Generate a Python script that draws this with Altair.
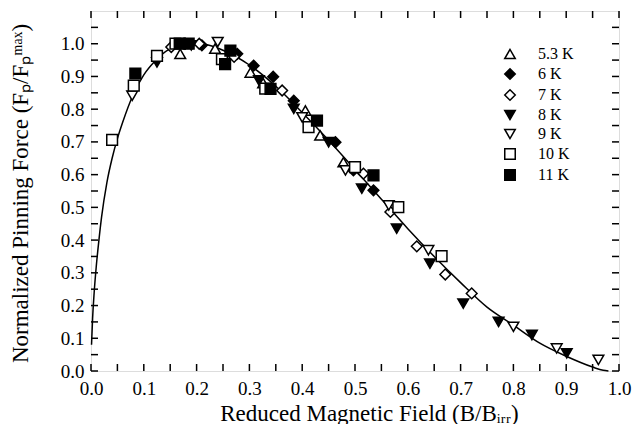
import altair as alt
import pandas as pd

# ---------------- data ----------------
series_labels = ["5.3 K", "6 K", "7 K", "8 K", "9 K", "10 K", "11 K"]
series_shapes = ["triangle-up", "diamond", "diamond", "triangle-down", "triangle-down", "square", "square"]
series_fills = ["white", "black", "white", "black", "white", "white", "black"]
series_strokes = ["black", "black", "black", "black", "black", "black", "black"]

k53_x = [0.169, 0.235, 0.302, 0.326, 0.406, 0.434, 0.478]
k53_y = [0.969, 0.985, 0.912, 0.880, 0.796, 0.720, 0.638]

k6_x = [0.178, 0.210, 0.277, 0.308, 0.345, 0.384, 0.463, 0.497, 0.535]
k6_y = [1.000, 0.995, 0.969, 0.933, 0.899, 0.826, 0.699, 0.613, 0.552]

k7_x = [0.152, 0.205, 0.271, 0.362, 0.516, 0.567, 0.617, 0.671, 0.721]
k7_y = [0.990, 1.000, 0.960, 0.857, 0.603, 0.486, 0.381, 0.295, 0.237]

k8_x = [0.125, 0.190, 0.318, 0.384, 0.450, 0.513, 0.579, 0.642, 0.705, 0.772, 0.835, 0.901]
k8_y = [0.943, 0.995, 0.888, 0.801, 0.699, 0.557, 0.435, 0.328, 0.206, 0.150, 0.110, 0.054]

k9_x = [0.078, 0.240, 0.400, 0.482, 0.564, 0.639, 0.800, 0.882, 0.961]
k9_y = [0.841, 1.005, 0.775, 0.613, 0.506, 0.369, 0.135, 0.069, 0.034]

k10_x = [0.040, 0.081, 0.125, 0.160, 0.248, 0.330, 0.412, 0.500, 0.582, 0.664]
k10_y = [0.706, 0.872, 0.963, 1.000, 0.953, 0.863, 0.745, 0.623, 0.501, 0.351]

k11_x = [0.084, 0.168, 0.185, 0.254, 0.264, 0.340, 0.428, 0.535]
k11_y = [0.909, 1.000, 1.000, 0.938, 0.979, 0.862, 0.765, 0.598]

# fitted curve
curve_x = [0.001, 0.003, 0.006, 0.01, 0.015, 0.02, 0.03, 0.04, 0.05, 0.06, 0.08, 0.10,
           0.12, 0.15, 0.18, 0.20, 0.22, 0.25, 0.30, 0.35, 0.40, 0.45, 0.50, 0.55,
           0.60, 0.65, 0.70, 0.75, 0.80, 0.85, 0.90, 0.95, 0.97, 0.98]
curve_y = [0.08, 0.16, 0.24, 0.32, 0.40, 0.47, 0.575, 0.65, 0.71, 0.76, 0.845, 0.905,
           0.945, 0.985, 1.0, 1.0, 0.997, 0.98, 0.935, 0.87, 0.79, 0.705, 0.615, 0.525,
           0.435, 0.35, 0.27, 0.195, 0.14, 0.085, 0.045, 0.012, 0.002, 0.0]

x_tick_labels = [0.0, 0.1, 0.2, 0.3, 0.4, 0.5, 0.6, 0.7, 0.8, 0.9, 1.0]
y_tick_labels = [0.0, 0.1, 0.2, 0.3, 0.4, 0.5, 0.6, 0.7, 0.8, 0.9, 1.0]
x_tick_marks = [0.0, 0.05, 0.1, 0.15, 0.2, 0.25, 0.3, 0.35, 0.4, 0.45, 0.5,
                0.55, 0.6, 0.65, 0.7, 0.75, 0.8, 0.85, 0.9, 0.95, 1.0]
y_tick_marks = [0.0, 0.05, 0.1, 0.15, 0.2, 0.25, 0.3, 0.35, 0.4, 0.45, 0.5,
                0.55, 0.6, 0.65, 0.7, 0.75, 0.8, 0.85, 0.9, 0.95, 1.0, 1.05]

# ---------------- build tables ----------------
all_x = [k53_x, k6_x, k7_x, k8_x, k9_x, k10_x, k11_x]
all_y = [k53_y, k6_y, k7_y, k8_y, k9_y, k10_y, k11_y]
rows = []
for lab, xs_, ys_ in zip(series_labels, all_x, all_y):
    for a, b in zip(xs_, ys_):
        rows.append({"T": lab, "x": a, "y": b})
pts = pd.DataFrame(rows)
curve = pd.DataFrame({"x": curve_x, "y": curve_y})
xt = pd.DataFrame({"v": x_tick_marks})
yt = pd.DataFrame({"v": y_tick_marks})

W, H = 528, 360
FONT = "Liberation Serif"
TL = 7

xs = alt.Scale(domain=[0, 1.0], nice=False, zero=False)
ys = alt.Scale(domain=[0, 1.1], nice=False, zero=False)

x_axis = alt.Axis(
    values=x_tick_labels, format=".1f", ticks=False, domain=False, grid=False,
    labelFont=FONT, labelFontSize=19, labelColor="black", labelPadding=8,
    labelFlush=False, labelOverlap=False, labelBound=False,
    title="Reduced Magnetic Field (B/Bᵢᵣᵣ)", titleFont=FONT, titleFontSize=23,
    titleFontWeight="normal", titleColor="black",
    titleX=278, titleY=49, titleAlign="center", titleBaseline="alphabetic",
)
y_axis = alt.Axis(
    values=y_tick_labels, format=".1f", ticks=False, domain=False, grid=False,
    labelFont=FONT, labelFontSize=19, labelColor="black", labelPadding=7,
    labelFlush=False, labelOverlap=False, labelBound=False,
    title="Normalized Pinning Force (Fₚ/Fₚᵐᵃˣ)", titleFont=FONT, titleFontSize=23,
    titleFontWeight="normal", titleColor="black",
    titleX=-71, titleY=182, titleAlign="center", titleBaseline="middle", titleAngle=-90,
)

legend = alt.Legend(
    title=None, orient="none", legendX=411, legendY=35, padding=0,
    labelFont=FONT, labelFontSize=16, labelColor="black", labelOffset=20,
    symbolSize=110, symbolStrokeWidth=1.5, symbolStrokeColor="black",
    rowPadding=3, symbolOpacity=1,
)

line = alt.Chart(curve).mark_line(color="black", strokeWidth=1.5, interpolate="monotone").encode(
    x=alt.X("x:Q", scale=xs, axis=x_axis),
    y=alt.Y("y:Q", scale=ys, axis=y_axis),
)

points = alt.Chart(pts).mark_point(filled=True, strokeWidth=1.5, size=115, opacity=1).encode(
    x=alt.X("x:Q", scale=xs, axis=x_axis),
    y=alt.Y("y:Q", scale=ys, axis=y_axis),
    shape=alt.Shape("T:N", scale=alt.Scale(domain=series_labels, range=series_shapes), legend=legend),
    fill=alt.Fill("T:N", scale=alt.Scale(domain=series_labels, range=series_fills), legend=legend),
    stroke=alt.Stroke("T:N", scale=alt.Scale(domain=series_labels, range=series_strokes), legend=legend),
)

bottom_ticks = alt.Chart(xt).mark_rule(color="black", strokeWidth=1.5).encode(
    x=alt.X("v:Q", scale=xs, axis=x_axis), y=alt.value(H), y2=alt.value(H - TL))
top_ticks = alt.Chart(xt).mark_rule(color="black", strokeWidth=1.5).encode(
    x=alt.X("v:Q", scale=xs, axis=x_axis), y=alt.value(0), y2=alt.value(TL))
left_ticks = alt.Chart(yt).mark_rule(color="black", strokeWidth=1.5).encode(
    y=alt.Y("v:Q", scale=ys, axis=y_axis), x=alt.value(0), x2=alt.value(TL))
right_ticks = alt.Chart(yt).mark_rule(color="black", strokeWidth=1.5).encode(
    y=alt.Y("v:Q", scale=ys, axis=y_axis), x=alt.value(W), x2=alt.value(W - TL))

chart = alt.layer(line, bottom_ticks, top_ticks, left_ticks, right_ticks, points).properties(
    width=W, height=H,
    autosize=alt.AutoSizeParams(type="none"),
    padding={"left": 83, "top": 3, "right": 13, "bottom": 53},
).configure_view(
    stroke="black", strokeWidth=2
).configure(background="white")

chart.save("out.html", embed_options={"renderer": "svg", "actions": False})
